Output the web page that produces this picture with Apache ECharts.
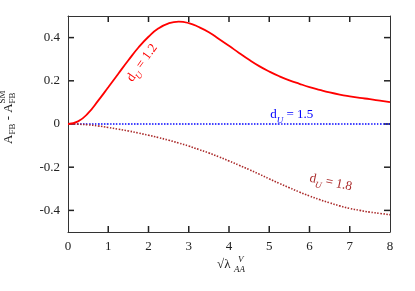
<!DOCTYPE html>
<html>
<head>
<meta charset="utf-8">
<script src="https://cdn.jsdelivr.net/npm/echarts@6/dist/echarts.min.js"></script>
<style>html,body{margin:0;padding:0;background:#fff;}#c{width:415px;height:291px;}</style>
</head>
<body>
<div id="c"></div>
<script>
// x values (sqrt(lambda_AA^V))
const xVals = [0,0.25,0.5,0.75,1,1.25,1.5,1.75,2,2.25,2.5,2.75,3,3.25,3.5,3.75,4,4.25,4.5,4.75,5,5.25,5.5,5.75,6,6.25,6.5,6.75,7,7.25,7.5,7.75,8];
// d_U = 1.2 (solid red)
const du12 = [0,0.012,0.05,0.108,0.17,0.233,0.295,0.354,0.404,0.443,0.466,0.474,0.467,0.449,0.425,0.394,0.362,0.329,0.297,0.268,0.243,0.221,0.202,0.186,0.171,0.158,0.146,0.136,0.128,0.121,0.115,0.108,0.101];
// d_U = 1.5 (dotted blue)
const du15 = [0,0,0,0,0,0,0,0,0,0,0,0,0,0,0,0,0,0,0,0,0,0,0,0,0,0,0,0,0,0,0,0,0];
// d_U = 1.8 (dotted dark red)
const du18 = [0,-0.001,-0.004,-0.009,-0.016,-0.024,-0.032,-0.042,-0.052,-0.063,-0.075,-0.088,-0.102,-0.118,-0.134,-0.152,-0.171,-0.191,-0.211,-0.232,-0.254,-0.275,-0.295,-0.315,-0.333,-0.35,-0.365,-0.379,-0.391,-0.4,-0.408,-0.414,-0.42];
const yTicks = [-0.4,-0.2,0,0.2,0.4];
const xTicks = [1,2,3,4,5,6,7];
// annotation anchors in data coords
const labels = [
  {name:'1.2', x:1.84, y:0.283, rot:54, color:'#ff0000'},
  {name:'1.5', x:5.56, y:0.043, rot:0, color:'#0000ff'},
  {name:'1.8', x:6.53, y:-0.271, rot:-12, color:'#aa2a2a'}
];

const FONT = 'Liberation Serif';
const frameColor = '#333';
const TICK = 6;
const pair = (xs, ys) => xs.map((x,i)=>[x, ys[i]]);

const chart = echarts.init(document.getElementById('c'), null, {renderer:'canvas'});

function xAxisCfg(pos, showLabel){
  return {
    type:'value', position:pos, min:0, max:8, interval:1,
    axisLine:{show:true, onZero:false, lineStyle:{color:frameColor, width:1}},
    axisTick:{show:false},
    axisLabel:{show:showLabel, margin:8, color:'#222', fontFamily:FONT, fontSize:13},
    splitLine:{show:false}
  };
}
function yAxisCfg(pos, showLabel){
  return {
    type:'value', position:pos, min:-0.5, max:0.5, interval:0.1,
    axisLine:{show:true, onZero:false, lineStyle:{color:frameColor, width:1}},
    axisTick:{show:false},
    axisLabel:{show:showLabel, margin:8, color:'#222', fontFamily:FONT, fontSize:13,
      customValues: yTicks, formatter: v => (Math.abs(v)<1e-9 ? '0' : String(+v.toFixed(1)))},
    splitLine:{show:false}
  };
}

chart.setOption({
  animation:false,
  backgroundColor:'#fff',
  grid:{left:68, right:25, top:16, bottom:59, containLabel:false},
  xAxis:[xAxisCfg('bottom', true), xAxisCfg('top', false)],
  yAxis:[yAxisCfg('left', true), yAxisCfg('right', false)],
  series:[
    {type:'line', data:pair(xVals, du15), showSymbol:false, smooth:0.5,
      lineStyle:{color:'#0000ff', width:1.6, type:[1.5,1.5]}},
    {type:'line', data:pair(xVals, du18), showSymbol:false, smooth:0.5,
      lineStyle:{color:'#aa2a2a', width:1.6, type:[1.5,1.5]}},
    {type:'line', data:pair(xVals, du12), showSymbol:false, smooth:0.5,
      lineStyle:{color:'#ff0000', width:1.8}}
  ]
});

const graphics = [];
// inward tick marks on all four sides, placed through the axes' own scales
const px = v => chart.convertToPixel({xAxisIndex:0, yAxisIndex:0}, v);
const bl = px([0,-0.5]), tr = px([8,0.5]);
function tickLine(x1, y1, x2, y2){
  return {type:'line', shape:{x1:x1, y1:y1, x2:x2, y2:y2}, style:{stroke:'#222', lineWidth:1.5}};
}
xTicks.forEach(v=>{
  const X = px([v,0])[0];
  graphics.push(tickLine(X, bl[1], X, bl[1]-TICK));
  graphics.push(tickLine(X, tr[1], X, tr[1]+TICK));
});
yTicks.forEach(v=>{
  const Y = px([0,v])[1];
  graphics.push(tickLine(bl[0], Y, bl[0]+TICK, Y));
  graphics.push(tickLine(tr[0], Y, tr[0]-TICK, Y));
});

labels.forEach(l=>{
  const p = px([l.x, l.y]);
  graphics.push({
    type:'text', x:p[0], y:p[1], rotation:l.rot*Math.PI/180, z:100,
    style:{
      text:'{b|d}{s|U}{b| = ' + l.name + '}',
      fill:l.color, fontFamily:FONT, fontSize:13, align:'center', verticalAlign:'middle',
      rich:{
        b:{fontSize:13, fontFamily:FONT, fill:l.color, lineHeight:20, verticalAlign:'middle'},
        s:{fontSize:9, fontStyle:'italic', fontFamily:FONT, fill:l.color, lineHeight:20, verticalAlign:'bottom'}
      }
    }
  });
});

const tst = (t, x, y, size, italic) => ({type:'text', x:x, y:y, style:{text:t, fontSize:size, fontFamily:FONT, fontStyle: italic?'italic':'normal', fill:'#222', align:'left', verticalAlign:'bottom'}});
// y-axis title: A_FB - A_FB^SM (rotated)
graphics.push({
  type:'group', x:15, y:118, rotation:Math.PI/2, z:100,
  children:[
    tst('A', -26, 0, 13),
    tst('FB', -16.6, 2.5, 9),
    tst(' - A', -5.6, 0, 13),
    tst('FB', 14.6, 2.5, 9),
    tst('SM', 14.6, -7.5, 9)
  ]
});
// x-axis title: sqrt(lambda)_AA^V
graphics.push({
  type:'group', x:217, y:271, z:100,
  children:[
    tst('\u221A\u03BB', 0, 0, 13),
    tst('AA', 17, 3.5, 9, true),
    tst('V', 21, -7, 9, true)
  ]
});

chart.setOption({graphic:graphics});
</script>
</body>
</html>
